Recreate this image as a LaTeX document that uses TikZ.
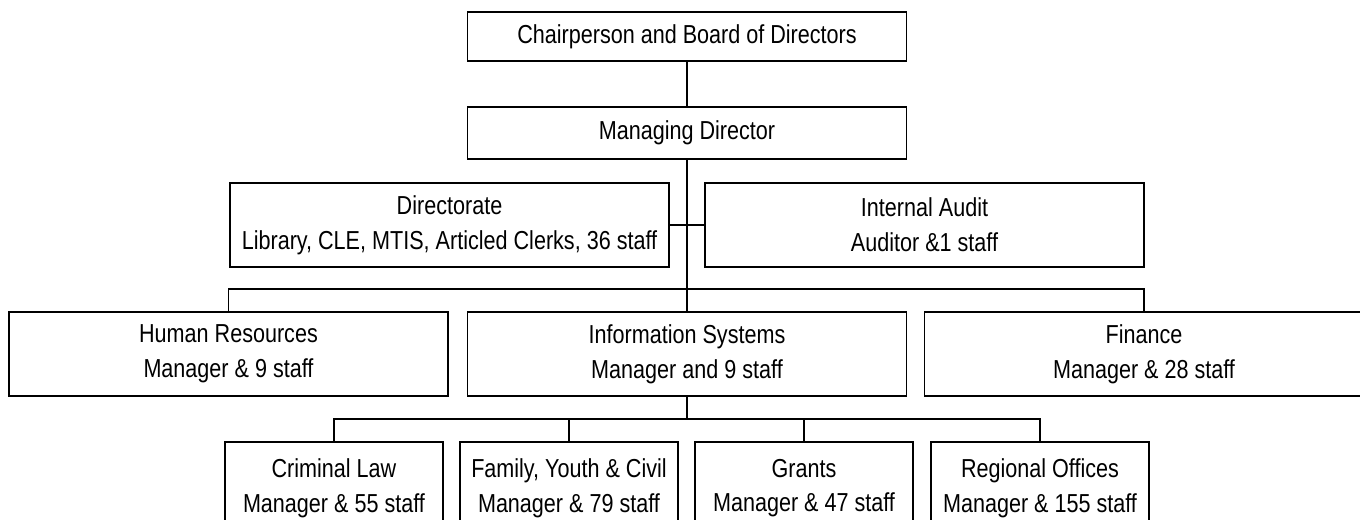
\documentclass[tikz,border=0pt]{standalone}
\usepackage{fontspec}
\setmainfont{Liberation Sans}[FakeStretch=0.83]

\tikzset{
  unit/.style={draw, line width=1pt, align=center, inner sep=0pt,
    minimum width=8.78cm, minimum height=1.68cm,
    font=\fontsize{14.8}{19.7}\selectfont},
  section/.style={unit, minimum width=4.36cm, minimum height=1.84cm},
  link/.style={line width=0.6pt}
}

\begin{document}
\begin{tikzpicture}[x=0.02cm,y=-0.02cm]
        \useasboundingbox (0,0) rectangle (1360,520);

        % draw the board and the managing director
        \node[unit, minimum height=0.98cm] (chair) at (687,36.5) {Chairperson and Board of Directors};
        \node[unit, minimum height=1.04cm] (md) at (687,133) {Managing Director};

        % draw the units beside the trunk
        \node[unit] (dir)   at (449.5,225) {Directorate\\Library, CLE, MTIS, Articled Clerks, 36 staff};
        \node[unit] (audit) at (924.5,225) {Internal Audit\\Auditor \&1 staff};

        % draw the divisions
        \node[unit] (hr)      at (228.5,354) {Human Resources\\Manager \& 9 staff};
        \node[unit] (infosys) at (687,354)   {Information Systems\\Manager and 9 staff};
        \node[unit] (finance) at (1144,354)  {Finance\\Manager \& 28 staff};

        % draw the sections under information systems
        \foreach \name/\x/\xtext in {
            crim/334/{Criminal Law\\Manager \& 55 staff},
            family/569/{Family, Youth \& Civil\\Manager \& 79 staff},
            grants/804/{Grants\\Manager \& 47 staff},
            regional/1040/{Regional Offices\\Manager \& 155 staff}}
                \node[section] (\name) at (\x,488) {\xtext};

        % the trunk runs from the board down to information systems
        \draw[link] (chair.south) -- (md.north);
        \draw[link] (md.south) -- (infosys.north);
        \draw[link] (dir.east) -- (audit.west);

        % bus over the divisions
        \coordinate (bus1) at (687,289);
        \draw[link] (hr.north) |- (bus1) -| (finance.north);

        % bus over the sections
        \coordinate (bus2) at (687,419);
        \draw[link] (infosys.south) -- (bus2);
        \foreach \name in {crim,family,grants,regional}
                \draw[link] (bus2) -| (\name.north);
\end{tikzpicture}
\end{document}
